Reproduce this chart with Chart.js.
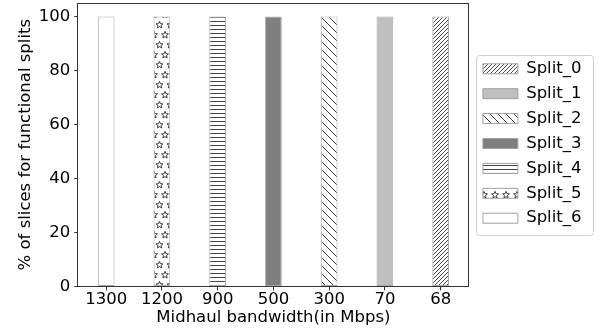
<!DOCTYPE html>
<html>
<head>
<meta charset="utf-8">
<script src="https://cdn.jsdelivr.net/npm/chart.js@4.4.1/dist/chart.umd.min.js"></script>
<style>
  html, body { margin: 0; padding: 0; background: #fff; }
  #wrap { width: 603px; height: 331px; }
</style>
</head>
<body>
<div id="wrap"><canvas id="split-chart" width="603" height="331"></canvas></div>
<script>
'use strict'

// categories (x axis) and the share of slices per split
var bandwidths = ['1300', '1200', '900', '500', '300', '70', '68']
var splitNames = ['Split_0', 'Split_1', 'Split_2', 'Split_3', 'Split_4', 'Split_5', 'Split_6']
var split0 = [0, 0, 0, 0, 0, 0, 100]
var split1 = [0, 0, 0, 0, 0, 100, 0]
var split2 = [0, 0, 0, 0, 100, 0, 0]
var split3 = [0, 0, 0, 100, 0, 0, 0]
var split4 = [0, 0, 100, 0, 0, 0, 0]
var split5 = [0, 100, 0, 0, 0, 0, 0]
var split6 = [100, 0, 0, 0, 0, 0, 0]
var yTicks = [0, 20, 40, 60, 80, 100]

var FONT = 'DejaVu Sans'

// hatch patterns, a bit like matplotlib hatches
function makePattern(w, h, drawFn) {
  var c = document.createElement('canvas')
  c.width = w
  c.height = h
  var g = c.getContext('2d')
  g.fillStyle = '#fff'
  g.fillRect(0, 0, w, h)
  drawFn(g, w, h)
  return g.createPattern(c, 'repeat')
}

var hatchSlash = makePattern(4, 4, function (g) {
  g.strokeStyle = '#333'
  g.lineWidth = 0.9
  g.beginPath()
  g.moveTo(-1, 5); g.lineTo(5, -1)
  g.moveTo(-1, 1); g.lineTo(1, -1)
  g.moveTo(3, 5); g.lineTo(5, 3)
  g.stroke()
})

var hatchBack = makePattern(8, 8, function (g) {
  g.strokeStyle = '#222'
  g.lineWidth = 0.9
  g.beginPath()
  g.moveTo(-1, -1); g.lineTo(9, 9)
  g.moveTo(7, -1); g.lineTo(9, 1)
  g.moveTo(-1, 7); g.lineTo(1, 9)
  g.stroke()
})

var hatchHoriz = makePattern(4, 4, function (g) {
  g.strokeStyle = '#444'
  g.lineWidth = 1
  g.beginPath()
  g.moveTo(0, 1.5); g.lineTo(4, 1.5)
  g.stroke()
})

function star(g, cx, cy, r) {
  g.beginPath()
  for (var i = 0; i < 10; i++) {
    var rr = i % 2 === 0 ? r : r * 0.45
    var a = -Math.PI / 2 + i * Math.PI / 5
    var x = cx + rr * Math.cos(a)
    var y = cy + rr * Math.sin(a)
    if (i === 0) g.moveTo(x, y); else g.lineTo(x, y)
  }
  g.closePath()
  g.stroke()
}

var hatchStars = makePattern(11, 20, function (g) {
  g.strokeStyle = '#111'
  g.lineWidth = 0.8
  star(g, 5.5, 5, 3.6)
  star(g, 0, 15, 3.6)
  star(g, 11, 15, 3.6)
})

var splitFills = [hatchSlash, '#bfbfbf', hatchBack, '#7f7f7f', hatchHoriz, hatchStars, '#ffffff']
var splitData = [split0, split1, split2, split3, split4, split5, split6]

var datasets = splitNames.map(function (name, i) {
  return {
    label: name,
    data: splitData[i],
    backgroundColor: splitFills[i],
    borderColor: '#a8a8a8',
    borderWidth: function (ctx) { return ctx.raw ? 1 : 0 },
    borderSkipped: false,
    categoryPercentage: 1,
    barPercentage: 0.3
  }
})

// full box around the plot, legend nudged into place with a rounded frame
var framePlugin = {
  id: 'frame',
  afterLayout: function (chart) {
    var lg = chart.legend
    lg.left += 6
    lg.right += 6
    lg.top -= 22
    lg.bottom -= 22
  },
  afterDraw: function (chart) {
    var ctx = chart.ctx
    var a = chart.chartArea
    ctx.save()
    ctx.strokeStyle = '#333'
    ctx.lineWidth = 1
    ctx.strokeRect(Math.round(a.left) - 0.5, Math.round(a.top) + 0.5,
      Math.round(a.right - a.left) + 1, Math.round(a.bottom - a.top))
    var boxes = chart.legend.legendHitBoxes
    if (boxes && boxes.length) {
      var first = boxes[0], last = boxes[boxes.length - 1]
      var c0 = first.top + first.height / 2
      var c1 = last.top + last.height / 2
      var x0 = Math.round(first.left) - 6.5
      ctx.strokeStyle = '#d0d0d0'
      ctx.beginPath()
      ctx.roundRect(x0, Math.round(c0 - 14) + 0.5, 117, Math.round(c1 - c0 + 31), 3)
      ctx.stroke()
    }
    ctx.restore()
  }
}

var chart = new Chart(document.getElementById('split-chart').getContext('2d'), {
  type: 'bar',
  data: { labels: bandwidths, datasets: datasets },
  plugins: [framePlugin],
  options: {
    responsive: false,
    devicePixelRatio: 1,
    animation: false,
    layout: { padding: { top: 3, right: 17.5, left: 16, bottom: 3 } },
    plugins: {
      tooltip: { enabled: false },
      legend: {
        display: true,
        position: 'right',
        align: 'center',
        labels: {
          boxWidth: 35,
          boxHeight: 10,
          padding: 8.4,
          color: '#000',
          font: { family: FONT, size: 16.5 },
          generateLabels: function (ch) {
            return ch.data.datasets.map(function (ds, i) {
              return {
                text: ds.label,
                fillStyle: ds.backgroundColor,
                strokeStyle: '#a0a0a0',
                lineWidth: 1,
                datasetIndex: i
              }
            })
          }
        }
      }
    },
    scales: {
      x: {
        stacked: true,
        offset: true,
        border: { display: false },
        grid: { display: true, offset: false, drawOnChartArea: false, drawTicks: true, tickLength: 4, color: '#333' },
        ticks: { color: '#000', font: { family: FONT, size: 16.5 }, padding: -1, maxRotation: 0 },
        title: {
          display: true,
          text: 'Midhaul bandwidth(in Mbps)',
          color: '#000',
          font: { family: FONT, size: 16.5 },
          padding: { top: 0, bottom: 0 }
        }
      },
      y: {
        stacked: true,
        min: 0,
        max: 105,
        border: { display: false },
        grid: { display: true, drawOnChartArea: false, drawTicks: true, tickLength: 4, color: '#333' },
        afterBuildTicks: function (axis) {
          axis.ticks = yTicks.map(function (v) { return { value: v } })
        },
        afterFit: function (axis) {
          axis.paddingTop = 0
        },
        ticks: { color: '#000', font: { family: FONT, size: 16.5 }, padding: 4 },
        title: {
          display: true,
          text: '% of slices for functional splits',
          color: '#000',
          font: { family: FONT, size: 16.5 },
          padding: { top: 0, bottom: -1 }
        }
      }
    }
  }
})
</script>
</body>
</html>
